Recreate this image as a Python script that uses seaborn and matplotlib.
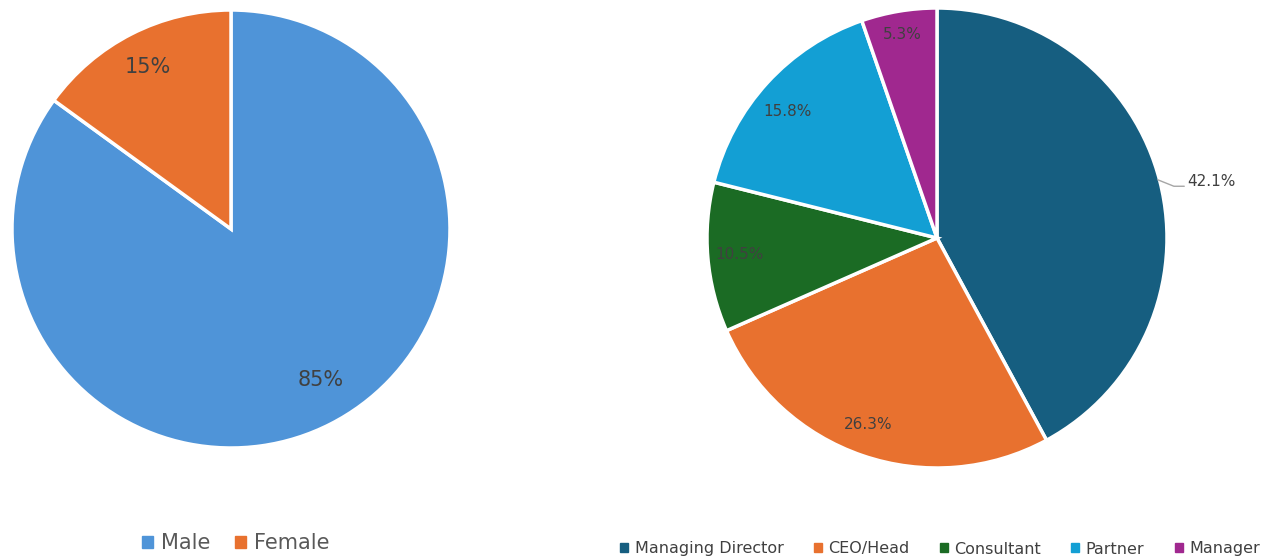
import matplotlib
matplotlib.use('Agg')
import matplotlib.pyplot as plt
import seaborn as sns
import numpy as np

gender_labels = ["Male", "Female"]
gender_values = [85, 15]
gender_colors = ["#4F94D8", "#E8712F"]

role_labels = ["Managing Director", "CEO/Head", "Consultant", "Partner", "Manager"]
role_values = [42.1, 26.3, 10.5, 15.8, 5.3]
role_colors = ["#165E80", "#E8712F", "#1B6B24", "#139FD4", "#A0288F"]

sns.set_theme(style="white")
plt.rcParams['font.family'] = ['DejaVu Sans']

fig = plt.figure(figsize=(12.71, 5.59), dpi=100)

# left pie: gender
ax1 = fig.add_axes([12 / 1271, 111 / 559, 438 / 1271, 438 / 559])
w1, t1, a1 = ax1.pie(gender_values, colors=gender_colors, startangle=90, counterclock=False,
                     autopct=lambda p: f"{p:.0f}%", pctdistance=0.82,
                     wedgeprops=dict(edgecolor="white", linewidth=2.5),
                     textprops=dict(color="#404040", fontsize=15))
ax1.set_xlim(-1, 1)
ax1.set_ylim(-1, 1)
ax1.set_aspect("equal")
# nudge labels to where they sit in the original
a1[0].set_position((0.41, -0.69))
a1[1].set_position((-0.38, 0.74))

# right pie: roles
ax2 = fig.add_axes([707 / 1271, 91 / 559, 460 / 1271, 460 / 559])
w2, t2, a2 = ax2.pie(role_values, colors=role_colors, startangle=90, counterclock=False,
                     autopct=lambda p: f"{p:.1f}%", pctdistance=0.86,
                     wedgeprops=dict(edgecolor="white", linewidth=2.5),
                     textprops=dict(color="#404040", fontsize=11))
ax2.set_xlim(-1, 1)
ax2.set_ylim(-1, 1)
ax2.set_aspect("equal")

a2[1].set_position((-0.30, -0.81))
a2[2].set_position((-0.86, -0.07))
a2[3].set_position((-0.65, 0.55))
a2[4].set_position((-0.15, 0.885))

# move the big slice label outside with a leader line
big = a2[0]
big.set_position((1.09, 0.245))
big.set_ha("left")
ang = np.deg2rad((w2[0].theta1 + w2[0].theta2) / 2)
ax2.plot([np.cos(ang) * 0.99, 1.03, 1.075], [np.sin(ang) * 0.99 + 0.01, 0.225, 0.225],
         color="#A6A6A6", lw=1, clip_on=False)

# legends
h1 = [plt.Rectangle((0, 0), 1, 1, color=c) for c in gender_colors]
fig.legend(h1, gender_labels, loc="center", bbox_to_anchor=(236 / 1271, 1 - 543 / 559),
           ncol=2, frameon=False, fontsize=15, handlelength=0.5, handleheight=0.5,
           handletextpad=0.4, columnspacing=1.2, labelcolor="#595959")

h2 = [plt.Rectangle((0, 0), 1, 1, color=c) for c in role_colors]
fig.legend(h2, role_labels, loc="center", bbox_to_anchor=(940 / 1271, 1 - 549 / 559),
           ncol=5, frameon=False, fontsize=11.5, handlelength=0.5, handleheight=0.5,
           handletextpad=0.4, columnspacing=1.9, labelcolor="#404040")

fig.savefig("out.png", dpi=100)
